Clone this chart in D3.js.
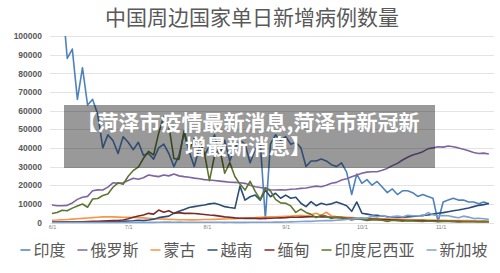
<!DOCTYPE html>
<html>
<head>
<meta charset="utf-8">
<script src="https://cdn.jsdelivr.net/npm/d3@7/dist/d3.min.js"></script>
<style>
  body { margin: 0; background: #fff; }
</style>
</head>
<body>
<div id="chart"></div>
<script>
var w = 500, h = 273;

// categories: one point every 2 days from 6/1/2021
var startDate = "2021-06-01";
var stepDays = 2;
var xTickDates = ["2021-06-01", "2021-07-01", "2021-08-01", "2021-09-01", "2021-10-01", "2021-11-01"];
var yTicks = [0, 10, 20, 30, 40, 50, 60, 70, 80, 90, 100];   // thousands

var seriesNames = ["印度", "俄罗斯", "蒙古", "越南", "缅甸", "印度尼西亚", "新加坡"];
var seriesColors = ["#4F81BD", "#8064A2", "#F79646", "#2C4D75", "#772C2A", "#5F7530", "#7EA3D3"];

// daily new cases, thousands
var india = [127, 134, 120, 88, 93, 66, 83, 63, 66, 58,
  40, 47, 44, 37, 46, 43, 39, 43, 36, 37,
  34, 40, 42, 37, 30, 36, 48, 38, 30, 40,
  36, 41, 47, 36, 44, 33, 40, 44, 42, 32,
  39, 43, 2, 42, 47, 44, 46, 42, 43, 40,
  30, 33, 33, 34, 33, 31, 30, 32, 27, 15,
  26, 21, 23, 20, 22, 19, 16, 18, 15, 17,
  17, 16, 14, 15, 14, 13, 0.5, 11, 12, 13,
  12, 12, 11, 11, 10, 11, 10];
var russia = [9.4, 9.0, 9.0, 9.2, 10.5, 12.4, 13.5, 14.0, 17.0, 17.5,
  17.4, 19.0, 21.3, 21.0, 21.3, 22.5, 23.7, 23.2, 24.0, 25.5,
  25.0, 24.6, 25.5, 25.0, 26.0, 25.0, 24.6, 24.3, 23.8, 23.5,
  23.0, 22.8, 22.5, 22.2, 21.9, 21.6, 21.5, 21.3, 21.0, 20.0,
  19.2, 18.8, 18.3, 17.6, 17.4, 17.6, 17.4, 17.8, 18.0, 18.3,
  18.5, 19.0, 19.5, 19.2, 20.0, 21.0, 21.5, 22.8, 23.5, 24.5,
  25.5, 26.4, 27.0, 27.2, 27.2, 28.0, 29.0, 30.5, 31.7, 33.5,
  35.0, 36.2, 37.0, 38.0, 39.5, 40.0, 40.6, 40.4, 41.0, 40.6,
  40.0, 39.3, 38.5, 37.5, 37.0, 37.2, 36.7];
var mongolia = [1.2, 1.3, 1.5, 1.6, 1.8, 2.0, 2.2, 2.4, 2.6, 2.8,
  3.0, 3.1, 3.0, 2.9, 2.8, 2.8, 2.7, 2.6, 2.5, 2.3,
  2.0, 1.9, 1.8, 1.7, 1.6, 1.5, 1.5, 1.4, 1.4, 1.5,
  1.6, 1.6, 1.7, 1.8, 1.9, 2.0, 2.1, 2.2, 2.4, 2.5,
  2.6, 2.8, 2.9, 3.0, 3.1, 3.2, 3.3, 3.4, 3.6, 3.8,
  3.5, 4.2, 5.0, 3.8, 5.5, 3.5, 3.2, 3.0, 2.8, 2.6,
  2.4, 2.3, 2.2, 2.2, 2.1, 2.0, 2.0, 1.9, 1.8, 1.7,
  1.6, 1.5, 1.4, 1.4, 1.3, 1.3, 1.2, 1.2, 1.1, 1.1,
  1.0, 1.0, 1.0, 0.9, 0.9, 0.9, 0.8];
var vietnam = [0.2, 0.2, 0.3, 0.3, 0.2, 0.3, 0.3, 0.3, 0.4, 0.4,
  0.4, 0.5, 0.5, 0.5, 0.6, 0.8, 0.9, 1.2, 1.0, 1.3,
  1.8, 2.6, 3.0, 3.4, 5.0, 6.0, 7.0, 8.0, 8.5, 9.0,
  9.4, 10.0, 10.3, 9.5, 8.5, 8.0, 7.6, 19.5, 12.0, 13.8,
  14.7, 12.0, 17.4, 13.8, 15.7, 13.0, 14.7, 13.0, 13.5, 10.3,
  8.5, 11.2, 9.0, 10.3, 9.5, 10.0, 11.0, 10.0, 9.0, 6.0,
  11.0, 5.0, 4.5, 4.0, 3.8, 3.5, 3.2, 3.0, 2.8, 2.8,
  3.0, 3.2, 3.5, 3.8, 4.0, 4.5, 5.0, 5.3, 5.8, 6.3,
  6.7, 7.2, 7.8, 8.5, 9.2, 9.6, 10.2];
var myanmar = [0.1, 0.1, 0.2, 0.2, 0.3, 0.3, 0.4, 0.5, 0.6, 0.7,
  0.8, 0.9, 1.0, 1.1, 1.3, 2.0, 2.8, 3.5, 4.0, 4.9,
  4.5, 6.7, 5.5, 6.3, 4.9, 5.3, 4.9, 5.0, 4.8, 4.6,
  4.3, 4.0, 3.8, 3.4, 3.0, 2.8, 2.5, 2.3, 2.2, 2.2,
  2.2, 2.1, 2.2, 2.3, 2.4, 2.5, 2.6, 2.8, 2.8, 2.9,
  3.0, 3.1, 3.1, 3.0, 3.0, 2.8, 2.6, 2.4, 2.2, 2.2,
  2.1, 2.0, 1.9, 1.8, 1.7, 1.6, 1.5, 1.4, 1.3, 1.2,
  1.1, 1.1, 1.0, 1.0, 0.9, 0.9, 0.8, 0.7, 0.7, 0.6,
  0.6, 0.5, 0.5, 0.5, 0.4, 0.4, 0.4];
var indonesia = [4.8, 5.4, 6.6, 6.3, 7.7, 8.9, 9.9, 8.2, 12.6, 12.9,
  14.5, 15.3, 18.9, 21.3, 20.5, 24.8, 27.9, 29.7, 34.4, 38.1,
  36.2, 47.9, 56.8, 51.9, 34.3, 33.8, 49.1, 38.7, 45.2, 43.5,
  37.3, 22.4, 35.9, 40.0, 26.4, 32.1, 24.7, 20.6, 17.4, 22.1,
  16.7, 12.4, 18.7, 16.9, 12.4, 10.5, 10.3, 8.9, 5.4, 7.2,
  5.4, 4.4, 2.6, 3.9, 3.4, 2.2, 2.9, 2.8, 2.0, 1.4,
  2.0, 1.6, 1.1, 1.4, 1.4, 1.2, 0.6, 1.2, 0.9, 0.7,
  0.9, 0.8, 0.7, 0.5, 0.8, 0.7, 0.4, 0.6, 0.6, 0.5,
  0.3, 0.4, 0.4, 0.4, 0.4, 0.5, 0.4];
var singapore = [0.02, 0.02, 0.03, 0.02, 0.03, 0.02, 0.02, 0.03, 0.03, 0.03,
  0.02, 0.03, 0.02, 0.03, 0.02, 0.03, 0.02, 0.05, 0.06, 0.05,
  0.06, 0.1, 0.2, 0.18, 0.17, 0.18, 0.16, 0.14, 0.13, 0.12,
  0.11, 0.1, 0.11, 0.1, 0.08, 0.1, 0.09, 0.07, 0.08, 0.1,
  0.1, 0.12, 0.14, 0.15, 0.2, 0.2, 0.25, 0.35, 0.4, 0.5,
  0.6, 0.6, 0.8, 0.9, 1.0, 1.0, 1.2, 1.4, 1.6, 1.9,
  2.2, 2.5, 2.3, 3.5, 3.0, 3.7, 2.8, 3.2, 3.4, 3.0,
  3.9, 3.6, 3.6, 3.4, 5.3, 4.2, 3.6, 3.7, 3.6, 3.0,
  2.5, 3.4, 2.9, 2.1, 2.3, 2.0, 1.7];

var seriesValues = [india, russia, mongolia, vietnam, myanmar, indonesia, singapore];

var parseDate = d3.timeParse("%Y-%m-%d");
var start = parseDate(startDate);
var dates = india.map(function(d, i) { return d3.timeDay.offset(start, i * stepDays); });

var plotLeft = 50, plotRight = 494, plotTop = 36, plotBottom = 222.5;

var x = d3.scaleTime()
  .domain([start, d3.timeDay.offset(start, 173)])
  .range([52, 491.4]);
var y = d3.scaleLinear()
  .domain([0, 100])
  .range([plotBottom, plotTop]);

var svg = d3.select('#chart').append('svg')
  .attr('width', w)
  .attr('height', h)
  .attr('style', 'background-color: white; display: block');

// title
svg.append('text')
  .attr('x', 252)
  .attr('y', 25)
  .attr('text-anchor', 'middle')
  .attr('font-family', "'Noto Sans CJK SC', sans-serif")
  .attr('font-size', 21)
  .attr('fill', '#595959')
  .text('中国周边国家单日新增病例数量');

// gridlines
svg.append('g')
  .selectAll('line')
  .data(yTicks)
  .enter().append('line')
  .attr('x1', plotLeft)
  .attr('x2', plotRight)
  .attr('y1', function(d) { return Math.round(y(d)) + 0.5; })
  .attr('y2', function(d) { return Math.round(y(d)) + 0.5; })
  .attr('stroke', '#E3E3E3')
  .attr('stroke-width', 1);

// y axis labels
var yAxis = d3.axisLeft(y)
  .tickValues(yTicks)
  .tickSize(0)
  .tickPadding(0)
  .tickFormat(function(d) { return d3.format('d')(d * 1000); });
var gy = svg.append('g')
  .attr('transform', 'translate(42,0)')
  .call(yAxis);
gy.select('.domain').remove();
gy.selectAll('text')
  .attr('font-family', "'Liberation Sans', Arial, sans-serif")
  .attr('font-size', 8.5)
  .attr('font-weight', 'bold')
  .attr('fill', '#595959');

// x axis labels
var xAxis = d3.axisBottom(x)
  .tickValues(xTickDates.map(parseDate))
  .tickSize(0)
  .tickPadding(0)
  .tickFormat(d3.timeFormat('%-m/%-d'));
var gx = svg.append('g')
  .attr('transform', 'translate(0,' + 225 + ')')
  .call(xAxis);
gx.select('.domain').remove();
gx.selectAll('text')
  .attr('font-family', "'Liberation Sans', Arial, sans-serif")
  .attr('font-size', 5.5)
  .attr('fill', '#7F7F7F');

// lines
svg.append('clipPath')
  .attr('id', 'plotClip')
  .append('rect')
  .attr('x', plotLeft)
  .attr('y', plotTop)
  .attr('width', plotRight - plotLeft)
  .attr('height', plotBottom - plotTop + 2);

var line = d3.line()
  .x(function(d, i) { return x(dates[i]); })
  .y(function(d) { return y(d); });

svg.append('g')
  .attr('clip-path', 'url(#plotClip)')
  .selectAll('path')
  .data(seriesValues)
  .enter().append('path')
  .attr('d', line)
  .attr('fill', 'none')
  .attr('stroke', function(d, i) { return seriesColors[i]; })
  .attr('stroke-width', 1.6)
  .attr('stroke-linejoin', 'round');

// legend
var legend = svg.append('g').attr('class', 'legend');
var markLen = 10, markGap = 3, itemGap = 12;
var items = legend.selectAll('g')
  .data(seriesNames)
  .enter().append('g');
items.append('line')
  .attr('x1', 0).attr('x2', markLen)
  .attr('y1', 0).attr('y2', 0)
  .attr('stroke', function(d, i) { return seriesColors[i]; })
  .attr('stroke-width', 1.5);
items.append('text')
  .attr('x', markLen + markGap)
  .attr('y', 5.5)
  .attr('font-family', "'Noto Sans CJK SC', sans-serif")
  .attr('font-size', 16)
  .attr('fill', '#595959')
  .text(function(d) { return d; });

var offsets = [], cur = 0;
items.each(function() {
  offsets.push(cur);
  cur += this.getBBox().width + itemGap;
});
var legendWidth = cur - itemGap;
var legendX = 254 - legendWidth / 2;
items.attr('transform', function(d, i) {
  return 'translate(' + (legendX + offsets[i]) + ',250)';
});

// watermark banner
svg.append('rect')
  .attr('x', 64)
  .attr('y', 105)
  .attr('width', 371)
  .attr('height', 63)
  .attr('fill', 'rgba(0,0,0,0.4)');

var bannerLines = ['【菏泽市疫情最新消息,菏泽市新冠新', '增最新消息】'];
svg.append('g')
  .selectAll('text')
  .data(bannerLines)
  .enter().append('text')
  .attr('x', 248)
  .attr('y', function(d, i) { return 130 + i * 24; })
  .attr('text-anchor', 'middle')
  .attr('font-family', "'Noto Sans CJK SC', sans-serif")
  .attr('font-weight', 'bold')
  .attr('font-size', 21)
  .attr('fill', '#fff')
  .text(function(d) { return d; });
</script>
</body>
</html>
